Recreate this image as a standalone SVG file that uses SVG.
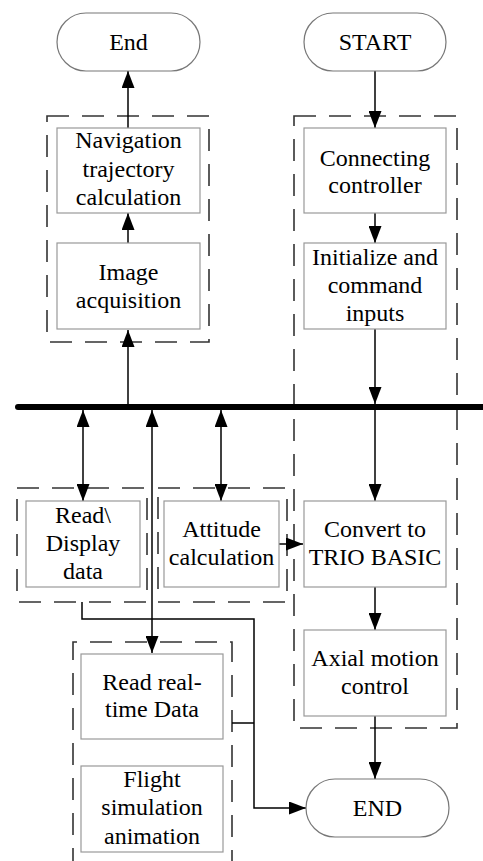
<svg xmlns="http://www.w3.org/2000/svg" width="483" height="861" viewBox="0 0 483 861">
<defs>
<style>
.box{fill:#fff;stroke:#999;stroke-width:1.2}
.pill{fill:#fff;stroke:#777;stroke-width:1.2}
.grp{fill:none;stroke:#333;stroke-width:1.6;stroke-dasharray:22 13}
.t{font-size:24px;fill:#000;text-anchor:middle}
.c{fill:none;stroke:#000;stroke-width:1.5}
.bus{stroke:#000;stroke-width:6;stroke-linecap:round}
</style>
<marker id="ah" markerUnits="userSpaceOnUse" markerWidth="17" markerHeight="13" refX="17" refY="6.5" orient="auto-start-reverse">
<path d="M0,0 L17,6.5 L0,13 z" fill="#000"/>
</marker>
</defs>
<rect width="483" height="861" fill="#fff"/>

<g id="groups">
<rect class="grp" x="47" y="116" width="162" height="226"/>
<rect class="grp" x="294" y="116" width="163" height="612"/>
<rect class="grp" x="17" y="488" width="130" height="114"/>
<rect class="grp" x="158" y="488" width="129" height="114"/>
<path class="grp" d="M73,870 V642 H232 V870"/>
</g>

<g id="connectors">
<line class="bus" x1="18" y1="407" x2="490" y2="407"/>
<line class="c" x1="128" y1="243" x2="128" y2="213" marker-end="url(#ah)"/>
<line class="c" x1="128" y1="128" x2="128" y2="71" marker-end="url(#ah)"/>
<line class="c" x1="128" y1="404" x2="128" y2="330" marker-end="url(#ah)"/>
<line class="c" x1="375" y1="71" x2="375" y2="128" marker-end="url(#ah)"/>
<line class="c" x1="375" y1="213" x2="375" y2="243" marker-end="url(#ah)"/>
<line class="c" x1="375" y1="329" x2="375" y2="404" marker-end="url(#ah)"/>
<line class="c" x1="375" y1="410" x2="375" y2="501" marker-end="url(#ah)"/>
<line class="c" x1="375" y1="587" x2="375" y2="630" marker-end="url(#ah)"/>
<line class="c" x1="375" y1="716" x2="375" y2="779" marker-end="url(#ah)"/>
<line class="c" x1="83" y1="410" x2="83" y2="501" marker-start="url(#ah)" marker-end="url(#ah)"/>
<line class="c" x1="221" y1="410" x2="221" y2="501" marker-start="url(#ah)" marker-end="url(#ah)"/>
<line class="c" x1="152" y1="410" x2="152" y2="653" marker-start="url(#ah)" marker-end="url(#ah)"/>
<line class="c" x1="279" y1="544" x2="303" y2="544" marker-end="url(#ah)"/>
<polyline class="c" points="82,602 82,619 254,619 254,808 306,808" marker-end="url(#ah)"/>
<line class="c" x1="232" y1="723" x2="254" y2="723"/>
</g>

<g font-family="'Liberation Serif', 'Times New Roman', 'DejaVu Serif', serif">
<g id="end-top"><rect class="pill" x="57" y="13" width="143" height="58" rx="29"/><text class="t" x="128.5" y="50">End</text></g>
<g id="start"><rect class="pill" x="304" y="13" width="142" height="58" rx="29"/><text class="t" x="375" y="50">START</text></g>
<g id="end-bottom"><rect class="pill" x="306" y="779" width="143" height="58" rx="29"/><text class="t" x="377.5" y="816">END</text></g>

<g id="nav"><rect class="box" x="57" y="128" width="143" height="85"/>
<text class="t" x="128.5" y="148">Navigation</text><text class="t" x="128.5" y="177">trajectory</text><text class="t" x="128.5" y="205">calculation</text></g>
<g id="image"><rect class="box" x="57" y="243" width="143" height="86"/>
<text class="t" x="128.5" y="280">Image</text><text class="t" x="128.5" y="308">acquisition</text></g>
<g id="connect"><rect class="box" x="304" y="128" width="142" height="85"/>
<text class="t" x="375" y="166">Connecting</text><text class="t" x="375" y="193">controller</text></g>
<g id="init"><rect class="box" x="304" y="243" width="142" height="86"/>
<text class="t" x="375" y="265">Initialize and</text><text class="t" x="375" y="293">command</text><text class="t" x="375" y="321">inputs</text></g>
<g id="readdisplay"><rect class="box" x="26" y="501" width="114" height="86"/>
<text class="t" x="83" y="523">Read\</text><text class="t" x="83" y="551">Display</text><text class="t" x="83" y="579">data</text></g>
<g id="attitude"><rect class="box" x="164" y="501" width="115" height="86"/>
<text class="t" x="221.5" y="537">Attitude</text><text class="t" x="221.5" y="565">calculation</text></g>
<g id="convert"><rect class="box" x="304" y="501" width="142" height="86"/>
<text class="t" x="375" y="537">Convert to</text><text class="t" x="375" y="565">TRIO BASIC</text></g>
<g id="axial"><rect class="box" x="304" y="630" width="142" height="86"/>
<text class="t" x="375" y="666">Axial motion</text><text class="t" x="375" y="694">control</text></g>
<g id="readrt"><rect class="box" x="81" y="654" width="142" height="85"/>
<text class="t" x="152" y="690">Read real-</text><text class="t" x="152" y="717">time Data</text></g>
<g id="flight"><rect class="box" x="81" y="766" width="142" height="86"/>
<text class="t" x="152" y="787">Flight</text><text class="t" x="152" y="815">simulation</text><text class="t" x="152" y="844">animation</text></g>
</g>
</svg>
